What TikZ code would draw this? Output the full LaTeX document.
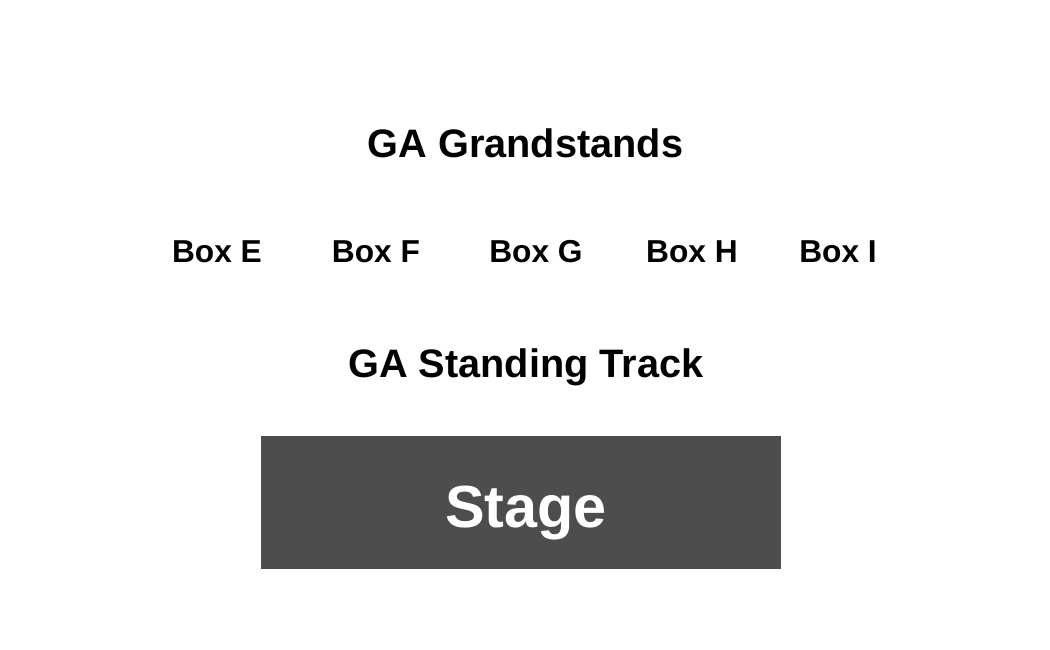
\documentclass[tikz,border=0pt]{standalone}
\usepackage{fontspec}
\setmainfont{Liberation Sans}
\begin{document}
\begin{tikzpicture}[x=1pt,y=-1pt,
  lbl/.style={font=\bfseries\fontsize{39.7}{40}\selectfont, inner sep=0pt, anchor=base},
  boxlbl/.style={font=\bfseries\fontsize{31.7}{32}\selectfont, inner sep=0pt, anchor=base},
  stagebox/.style={fill=stagegray, draw=none}]
\definecolor{stagegray}{HTML}{4D4D4D}
\useasboundingbox[fill=white] (0,0) rectangle (1050,650);
\node[lbl] (grand) at (525.5,158) {GA Grandstands};
\node[boxlbl] (boxE) at (217,262) {Box E};
\node[boxlbl] (boxF) at (376,262) {Box F};
\node[boxlbl] (boxG) at (536,262) {Box G};
\node[boxlbl] (boxH) at (692,262) {Box H};
\node[boxlbl] (boxI) at (838,262) {Box I};
\node[lbl] (track) at (526,377) {GA Standing Track};
\fill[stagegray] (261,436) rectangle (781,569);
\node[font=\bfseries\fontsize{59.4}{60}\selectfont, text=white, inner sep=0pt, anchor=base] (stage) at (526,527) {Stage};
\end{tikzpicture}
\end{document}
